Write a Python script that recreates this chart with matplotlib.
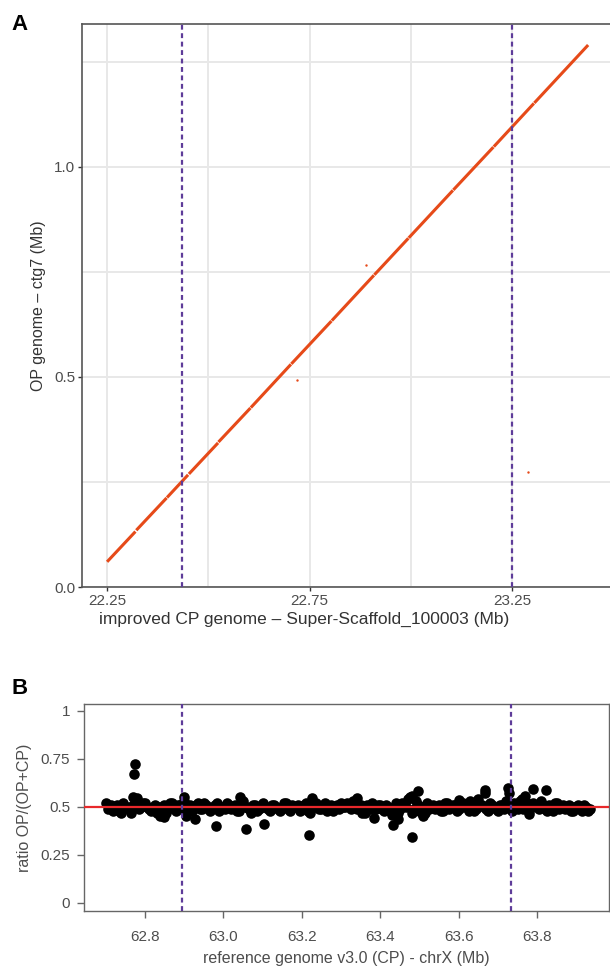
import numpy as np
import matplotlib
matplotlib.use("Agg")
import matplotlib.pyplot as plt

plt.rcParams['font.family'] = ['Liberation Sans', 'DejaVu Sans']

# --- panel A: alignment blocks (CP scaffold vs OP contig, Mb) ---
blk_x_start = [22.250, 22.322, 22.398, 22.452, 22.525, 22.605, 22.705, 22.805, 22.910, 22.995, 23.105, 23.205, 23.305]
blk_x_end = [22.320, 22.397, 22.450, 22.524, 22.604, 22.704, 22.804, 22.909, 22.994, 23.104, 23.204, 23.304, 23.438]
blk_y_start = [0.060, 0.135, 0.213, 0.269, 0.345, 0.427, 0.531, 0.634, 0.743, 0.831, 0.945, 1.048, 1.152]
blk_y_end = [0.132, 0.212, 0.267, 0.343, 0.426, 0.530, 0.633, 0.742, 0.830, 0.944, 1.047, 1.151, 1.290]
stray_x = [22.72, 22.89, 23.29]
stray_y = [0.493, 0.767, 0.274]
bounds_a = [22.435, 23.25]

# --- panel B: allele ratio along chrX ---
win_pos = [62.70, 62.71, 62.72, 62.73, 62.74, 62.75, 62.76, 62.77, 62.78, 62.79,
           62.80, 62.81, 62.82, 62.83, 62.84, 62.85, 62.86, 62.87, 62.88, 62.89,
           62.90, 62.91, 62.92, 62.93, 62.94, 62.95, 62.96, 62.97, 62.98, 62.99,
           63.00, 63.01, 63.02, 63.03, 63.04, 63.05, 63.06, 63.07, 63.08, 63.09,
           63.10, 63.11, 63.12, 63.13, 63.14, 63.15, 63.16, 63.17, 63.18, 63.19,
           63.20, 63.21, 63.22, 63.23, 63.24, 63.25, 63.26, 63.27, 63.28, 63.29,
           63.30, 63.31, 63.32, 63.33, 63.34, 63.35, 63.36, 63.37, 63.38, 63.39,
           63.40, 63.41, 63.42, 63.43, 63.44, 63.45, 63.46, 63.47, 63.48, 63.49,
           63.50, 63.51, 63.52, 63.53, 63.54, 63.55, 63.56, 63.57, 63.58, 63.59,
           63.60, 63.61, 63.62, 63.63, 63.64, 63.65, 63.66, 63.67, 63.68, 63.69,
           63.70, 63.71, 63.72, 63.73, 63.74, 63.75, 63.76, 63.77, 63.78, 63.79,
           63.80, 63.81, 63.82, 63.83, 63.84, 63.85, 63.86, 63.87, 63.88, 63.89,
           63.90, 63.91, 63.92, 63.93]
win_ratio = [0.52, 0.50, 0.48, 0.51, 0.47, 0.50, 0.49, 0.51, 0.53, 0.50,
             0.52, 0.49, 0.50, 0.47, 0.46, 0.51, 0.49, 0.52, 0.48, 0.51,
             0.53, 0.50, 0.48, 0.51, 0.49, 0.52, 0.50, 0.49, 0.51, 0.48,
             0.50, 0.52, 0.49, 0.51, 0.48, 0.53, 0.50, 0.47, 0.51, 0.49,
             0.52, 0.50, 0.48, 0.51, 0.49, 0.50, 0.52, 0.48, 0.50, 0.51,
             0.49, 0.52, 0.47, 0.50, 0.51, 0.49, 0.52, 0.50, 0.48, 0.51,
             0.52, 0.50, 0.51, 0.53, 0.49, 0.51, 0.47, 0.50, 0.52, 0.49,
             0.51, 0.48, 0.50, 0.46, 0.52, 0.49, 0.51, 0.54, 0.47, 0.53,
             0.48, 0.46, 0.52, 0.50, 0.49, 0.51, 0.48, 0.52, 0.50, 0.51,
             0.49, 0.52, 0.50, 0.53, 0.48, 0.54, 0.51, 0.49, 0.52, 0.50,
             0.48, 0.51, 0.53, 0.50, 0.52, 0.49, 0.54, 0.51, 0.48, 0.52,
             0.50, 0.53, 0.49, 0.51, 0.48, 0.52, 0.50, 0.49, 0.51, 0.48,
             0.50, 0.49, 0.51, 0.48]
win_pos_half = [62.705, 62.715, 62.725, 62.735, 62.745, 62.755, 62.765, 62.775, 62.785, 62.795,
                62.805, 62.815, 62.825, 62.835, 62.845, 62.855, 62.865, 62.875, 62.885, 62.895,
                62.905, 62.915, 62.925, 62.935, 62.945, 62.955, 62.965, 62.975, 62.985, 62.995,
                63.005, 63.015, 63.025, 63.035, 63.045, 63.055, 63.065, 63.075, 63.085, 63.095,
                63.105, 63.115, 63.125, 63.135, 63.145, 63.155, 63.165, 63.175, 63.185, 63.195,
                63.205, 63.215, 63.225, 63.235, 63.245, 63.255, 63.265, 63.275, 63.285, 63.295,
                63.305, 63.315, 63.325, 63.335, 63.345, 63.355, 63.365, 63.375, 63.385, 63.395,
                63.405, 63.415, 63.425, 63.435, 63.445, 63.455, 63.465, 63.475, 63.485, 63.495,
                63.505, 63.515, 63.525, 63.535, 63.545, 63.555, 63.565, 63.575, 63.585, 63.595,
                63.605, 63.615, 63.625, 63.635, 63.645, 63.655, 63.665, 63.675, 63.685, 63.695,
                63.705, 63.715, 63.725, 63.735, 63.745, 63.755, 63.765, 63.775, 63.785, 63.795,
                63.805, 63.815, 63.825, 63.835, 63.845, 63.855, 63.865, 63.875, 63.885, 63.895,
                63.905, 63.915, 63.925, 63.935]
win_ratio_half = [0.49, 0.51, 0.50, 0.48, 0.52, 0.50, 0.47, 0.54, 0.49, 0.52,
                  0.50, 0.48, 0.51, 0.50, 0.49, 0.47, 0.52, 0.50, 0.51, 0.49,
                  0.48, 0.51, 0.50, 0.52, 0.49, 0.51, 0.48, 0.50, 0.52, 0.50,
                  0.49, 0.51, 0.50, 0.48, 0.52, 0.50, 0.49, 0.51, 0.48, 0.50,
                  0.50, 0.49, 0.51, 0.50, 0.48, 0.52, 0.49, 0.51, 0.50, 0.48,
                  0.51, 0.48, 0.50, 0.52, 0.49, 0.50, 0.48, 0.51, 0.50, 0.49,
                  0.50, 0.52, 0.49, 0.51, 0.50, 0.48, 0.51, 0.49, 0.50, 0.51,
                  0.49, 0.51, 0.48, 0.50, 0.47, 0.52, 0.50, 0.55, 0.49, 0.51,
                  0.50, 0.47, 0.49, 0.51, 0.50, 0.48, 0.52, 0.49, 0.51, 0.48,
                  0.51, 0.50, 0.48, 0.52, 0.49, 0.51, 0.50, 0.48, 0.51, 0.49,
                  0.51, 0.49, 0.52, 0.48, 0.50, 0.53, 0.49, 0.52, 0.50, 0.51,
                  0.49, 0.51, 0.48, 0.50, 0.52, 0.49, 0.51, 0.50, 0.48, 0.50,
                  0.51, 0.48, 0.50, 0.49]
out_pos = [62.776, 62.773, 62.982, 63.058, 63.105, 63.219, 63.480, 63.433, 63.445, 63.383,
           62.927, 62.905, 63.043, 63.226, 63.497, 63.480, 63.666, 63.667, 63.725, 63.728,
           63.789, 63.823, 63.778, 63.770, 62.770, 62.780, 62.838, 62.850, 62.900, 63.353,
           63.510, 63.340, 63.600]
out_ratio = [0.722, 0.672, 0.401, 0.385, 0.411, 0.356, 0.344, 0.406, 0.437, 0.442,
             0.437, 0.453, 0.554, 0.548, 0.583, 0.556, 0.588, 0.570, 0.599, 0.570,
             0.595, 0.588, 0.464, 0.556, 0.550, 0.545, 0.453, 0.447, 0.550, 0.469,
             0.453, 0.545, 0.535]
bounds_b = [62.894, 63.733]

txt_col = '#4d4d4d'
fig = plt.figure(figsize=(6.10, 9.72), dpi=100)

# panel A
ax = fig.add_axes([82 / 610, 1 - 587 / 972, 528 / 610, 563 / 972])
for xs, xe, ys, ye in zip(blk_x_start, blk_x_end, blk_y_start, blk_y_end):
    ax.plot([xs, xe], [ys, ye], color='#e64a19', lw=2.2, solid_capstyle='butt', zorder=3)
ax.scatter(stray_x, stray_y, s=3, color='#e64a19', lw=0, zorder=3)
for b in bounds_a:
    ax.axvline(b, color='#5e3c99', lw=1.6, ls=(0, (2.2, 1.6)), zorder=4)
ax.set_xlim(22.188, 23.492)
ax.set_ylim(0, 1.34)
ax.set_xticks([22.25, 22.75, 23.25])
ax.set_xticks([22.5, 23.0], minor=True)
ax.set_yticks([0.0, 0.5, 1.0])
ax.set_yticks([0.25, 0.75, 1.25], minor=True)
ax.set_xticklabels(['22.25', '22.75', '23.25'])
ax.set_yticklabels(['0.0', '0.5', '1.0'])
ax.grid(True, which='both', color='#e8e8e8', lw=1.4, zorder=0)
ax.set_axisbelow(True)
ax.spines['right'].set_visible(False)
for s in ['left', 'top', 'bottom']:
    ax.spines[s].set_color('#555555')
    ax.spines[s].set_linewidth(1.2)
ax.tick_params(which='major', length=3, width=1, color='#333333', labelsize=11, labelcolor=txt_col, pad=2)
ax.tick_params(which='minor', length=0)
ax.set_xlabel('improved CP genome – Super-Scaffold_100003 (Mb)', fontsize=12.5, color='#333333', labelpad=4)
ax.xaxis.set_label_coords((304 - 82) / 528, -0.045)
ax.set_ylabel('OP genome – ctg7 (Mb)', fontsize=11.5, color='#333333', labelpad=6)
fig.text(20 / 610, 1 - 25 / 972, 'A', fontsize=16, fontweight='bold', ha='center', va='center')

# panel B
bx = fig.add_axes([84 / 610, 1 - 911 / 972, 525 / 610, 207 / 972])
bx.scatter(win_pos, win_ratio, s=58, color='black', lw=0, zorder=2)
bx.scatter(win_pos_half, win_ratio_half, s=58, color='black', lw=0, zorder=2)
bx.scatter(out_pos, out_ratio, s=58, color='black', lw=0, zorder=2)
bx.axhline(0.5, color='#e8282b', lw=1.6, zorder=3)
for b in bounds_b:
    bx.axvline(b, color='#5e3c99', lw=1.6, ls=(0, (2.2, 1.6)), zorder=4)
bx.set_xlim(62.645, 63.983)
bx.set_ylim(-0.042, 1.036)
bx.set_xticks([62.8, 63.0, 63.2, 63.4, 63.6, 63.8])
bx.set_xticklabels(['62.8', '63.0', '63.2', '63.4', '63.6', '63.8'])
bx.set_yticks([0, 0.25, 0.5, 0.75, 1])
bx.set_yticklabels(['0', '0.25', '0.5', '0.75', '1'])
for s in bx.spines.values():
    s.set_color('#666666')
    s.set_linewidth(1.0)
bx.tick_params(axis='y', length=5, width=1, color='#666666', labelsize=11, labelcolor=txt_col, pad=5)
bx.tick_params(axis='x', length=5, width=1, color='#666666', labelsize=11, labelcolor=txt_col, pad=9)
bx.set_xlabel('reference genome v3.0 (CP) - chrX (Mb)', fontsize=11.5, color=txt_col, labelpad=5)
bx.set_ylabel('ratio OP/(OP+CP)', fontsize=11.5, color=txt_col, labelpad=6)
fig.text(20 / 610, 1 - 688 / 972, 'B', fontsize=16, fontweight='bold', ha='center', va='center')

fig.savefig('out.png', dpi=100)
